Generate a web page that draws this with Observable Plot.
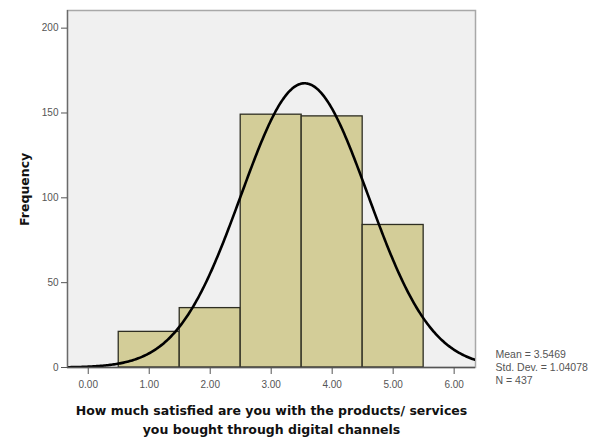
<!DOCTYPE html>
<html>
<head>
<meta charset="utf-8">
<script src="https://cdn.jsdelivr.net/npm/d3@7"></script>
<script src="https://cdn.jsdelivr.net/npm/@observablehq/plot@0.6"></script>
<style>
  html, body { margin: 0; padding: 0; background: #fff; }
  #chart svg { display: block; }
</style>
</head>
<body>
<div id="chart"></div>
<script>
// Data
const binStart = [0.5, 1.5, 2.5, 3.5, 4.5];
const binEnd   = [1.5, 2.5, 3.5, 4.5, 5.5];
const counts   = [21, 35, 149, 148, 84];
const xTicks = [0, 1, 2, 3, 4, 5, 6];
const yTicks = [0, 50, 100, 150, 200];
const statMean = 3.5469;
const statSD = 1.04078;
const statN = 437;
const statLines = ["Mean = 3.5469", "Std. Dev. = 1.04078", "N = 437"];
const xLabel = "How much satisfied are you with the products/ services\nyou bought through digital channels";
const yLabel = "Frequency";

const xDomain = [-0.34, 6.35];
const yDomain = [0, 210.4];

const bins = binStart.map((s, i) => ({x1: s, x2: binEnd[i], count: counts[i]}));

// Fitted normal curve (from reported Mean / Std. Dev. / N, bin width 1)
const curve = d3.range(xDomain[0], xDomain[1] + 0.001, 0.02).map(x => ({
  x,
  y: statN * Math.exp(-0.5 * ((x - statMean) / statSD) ** 2) / (statSD * Math.sqrt(2 * Math.PI))
}));

const chart = Plot.plot({
  width: 601,
  height: 437,
  marginLeft: 67,
  marginRight: 126,
  marginTop: 10,
  marginBottom: 70,
  style: {fontFamily: "Liberation Sans, Arial, sans-serif", background: "#fff"},
  x: {domain: xDomain},
  y: {domain: yDomain},
  marks: [
    Plot.frame({fill: "#f0f0f0", stroke: "#a8a8a8", strokeWidth: 1.5}),
    Plot.rectY(bins, {x1: "x1", x2: "x2", y: "count", fill: "#d3cd98", stroke: "#2e2e22", strokeWidth: 1.3}),
    Plot.line(curve, {x: "x", y: "y", stroke: "#000", strokeWidth: 2.6, clip: true}),
    Plot.ruleX([xDomain[0]], {stroke: "#6a6a6a", strokeWidth: 1.3}),
    Plot.ruleY([0], {stroke: "#555", strokeWidth: 1.3}),
    Plot.axisY({ticks: yTicks, tickSize: 6, tickPadding: 3, label: null, fontSize: 10, color: "#555", stroke: "#555"}),
    Plot.axisX({ticks: xTicks, tickSize: 7, tickPadding: 6, tickFormat: d3.format(".2f"), label: null, fontSize: 10, color: "#555", stroke: "#555"}),
    Plot.text([xLabel], {frameAnchor: "bottom", dy: 34, lineAnchor: "top", fontFamily: "DejaVu Sans", fontSize: 12.5, fontWeight: "bold", fill: "#111", lineHeight: 1.5}),
    Plot.text([yLabel], {x: () => xDomain[0], y: () => 105, dx: -43, rotate: -90, fontFamily: "DejaVu Sans", fontSize: 12.5, fontWeight: "bold", fill: "#111"}),
    Plot.text([statLines.join("\n")], {frameAnchor: "bottom-right", dx: 20, dy: -18, textAnchor: "start", lineAnchor: "top", fontSize: 10.5, fill: "#555", lineHeight: 1.2})
  ]
});
document.getElementById("chart").appendChild(chart);
</script>
</body>
</html>
